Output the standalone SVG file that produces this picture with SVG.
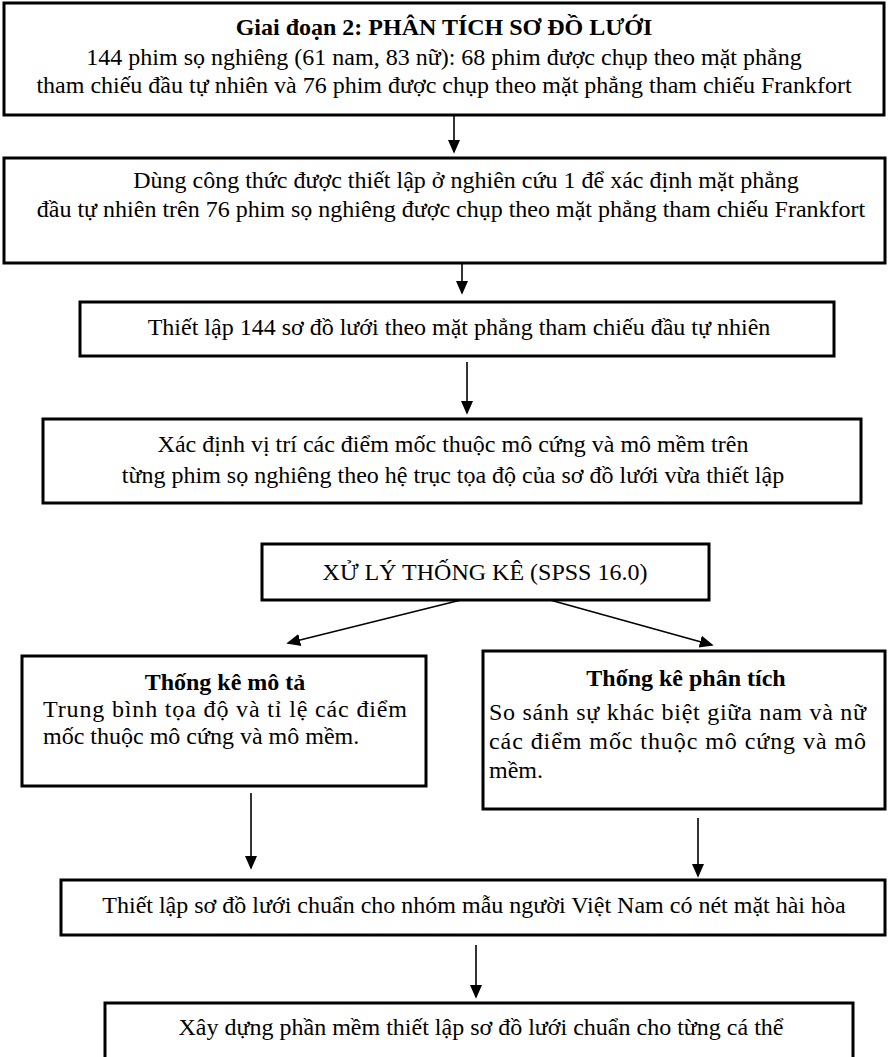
<svg xmlns="http://www.w3.org/2000/svg" width="889" height="1057" viewBox="0 0 889 1057">
<defs>
<style>
.box{fill:#fff;stroke:#000;stroke-width:3}
.t{font-family:"Liberation Serif","Times New Roman",serif;font-size:24px;fill:#000}
.c{text-anchor:middle}
.b{font-weight:bold}
.con{stroke:#000;stroke-width:1.6;fill:none}
</style>
<marker id="ah" markerUnits="userSpaceOnUse" markerWidth="14" markerHeight="16" refX="14" refY="7" orient="auto" viewBox="0 0 16 14">
<path d="M0,0 L16,7 L0,14 Z" fill="#000"/>
</marker>
</defs>
<rect width="889" height="1057" fill="#fff"/>
<g id="connectors">
<line class="con" x1="454" y1="115" x2="454" y2="152" marker-end="url(#ah)"/>
<line class="con" x1="462" y1="263" x2="462" y2="293" marker-end="url(#ah)"/>
<line class="con" x1="467" y1="362" x2="467" y2="413" marker-end="url(#ah)"/>
<line class="con" x1="461" y1="600" x2="288" y2="643" marker-end="url(#ah)"/>
<line class="con" x1="550" y1="600" x2="712" y2="645" marker-end="url(#ah)"/>
<line class="con" x1="251" y1="793" x2="251" y2="868" marker-end="url(#ah)"/>
<line class="con" x1="698" y1="818" x2="698" y2="876" marker-end="url(#ah)"/>
<line class="con" x1="476" y1="945" x2="476" y2="997" marker-end="url(#ah)"/>
</g>
<g id="n1">
<rect class="box" x="4" y="3" width="880" height="112"/>
<text class="t c b" x="444" y="35">Giai đoạn 2: PHÂN TÍCH SƠ ĐỒ LƯỚI</text>
<text class="t c" x="444" y="65">144 phim sọ nghiêng (61 nam, 83 nữ): 68 phim được chụp theo mặt phẳng</text>
<text class="t c" x="444" y="93">tham chiếu đầu tự nhiên và 76 phim được chụp theo mặt phẳng tham chiếu Frankfort</text>
</g>
<g id="n2">
<rect class="box" x="4" y="158" width="881" height="105"/>
<text class="t c" x="466" y="188">Dùng công thức được thiết lập ở nghiên cứu 1 để xác định mặt phẳng</text>
<text class="t c" x="451" y="217">đầu tự nhiên trên 76 phim sọ nghiêng được chụp theo mặt phẳng tham chiếu Frankfort</text>
</g>
<g id="n3">
<rect class="box" x="80" y="302" width="754" height="54"/>
<text class="t c" x="459" y="335">Thiết lập 144 sơ đồ lưới theo mặt phẳng tham chiếu đầu tự nhiên</text>
</g>
<g id="n4">
<rect class="box" x="43" y="419" width="818" height="84"/>
<text class="t c" x="453" y="452">Xác định vị trí các điểm mốc thuộc mô cứng và mô mềm trên</text>
<text class="t c" x="453" y="483">từng phim sọ nghiêng theo hệ trục tọa độ của sơ đồ lưới vừa thiết lập</text>
</g>
<g id="n5">
<rect class="box" x="262" y="544" width="447" height="56"/>
<text class="t c" x="485" y="580">XỬ LÝ THỐNG KÊ (SPSS 16.0)</text>
</g>
<g id="n6">
<rect class="box" x="22" y="656" width="404" height="130"/>
<text class="t c b" x="225" y="690">Thống kê mô tả</text>
<text class="t" x="43" y="717" textLength="364" lengthAdjust="spacing">Trung bình tọa độ và tỉ lệ các điểm</text>
<text class="t" x="43" y="744">mốc thuộc mô cứng và mô mềm.</text>
</g>
<g id="n7">
<rect class="box" x="483" y="651" width="402" height="158"/>
<text class="t c b" x="686" y="686">Thống kê phân tích</text>
<text class="t" x="489" y="720" textLength="377" lengthAdjust="spacing">So sánh sự khác biệt giữa nam và nữ</text>
<text class="t" x="489" y="749" textLength="377" lengthAdjust="spacing">các điểm mốc thuộc mô cứng và mô</text>
<text class="t" x="489" y="778">mềm.</text>
</g>
<g id="n8">
<rect class="box" x="61" y="880" width="824" height="55"/>
<text class="t c" x="474" y="913">Thiết lập sơ đồ lưới chuẩn cho nhóm mẫu người Việt Nam có nét mặt hài hòa</text>
</g>
<g id="n9">
<rect class="box" x="105" y="1003" width="748" height="70"/>
<text class="t c" x="481" y="1035">Xây dựng phần mềm thiết lập sơ đồ lưới chuẩn cho từng cá thể</text>
</g>
</svg>
